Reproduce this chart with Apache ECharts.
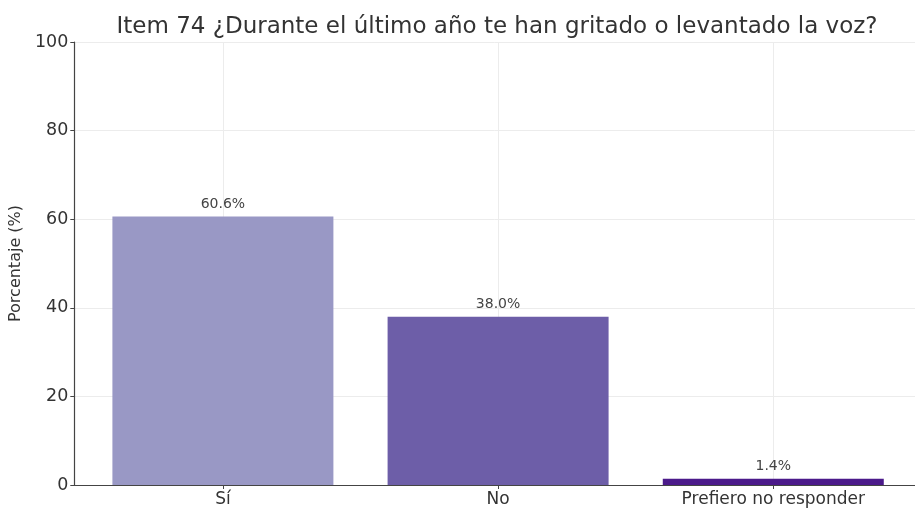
<!DOCTYPE html>
<html><head><meta charset="utf-8">
<script src="https://cdn.jsdelivr.net/npm/echarts@6/dist/echarts.min.js"></script>
<style>html,body{margin:0;padding:0;background:#fff}#c{width:915px;height:508px}</style>
</head><body><div id="c"></div>
<script>
const categories = ['Sí', 'No', 'Prefiero no responder'];
const values = [60.6, 38.0, 1.4];
const barColors = ['#9998c5', '#6d5ea8', '#4b1a8a'];
const yTicks = [0, 20, 40, 60, 80, 100];
const titleText = 'Item 74 ¿Durante el último año te han gritado o levantado la voz?';
const yName = 'Porcentaje (%)';

const font = 'DejaVu Sans';
const chart = echarts.init(document.getElementById('c'), null, {renderer: 'canvas'});
const idx = categories.map((_, i) => i);
chart.setOption({
  animation: false,
  title: {text: titleText, left: 492, top: 11, textAlign: 'center',
    textStyle: {fontFamily: font, fontSize: 23, fontWeight: 'normal', color: '#333'}},
  grid: {left: 72, right: 0, top: 42, bottom: 23, containLabel: false},
  xAxis: {type: 'value', min: -0.54, max: 2.515,
    axisLine: {show: true, onZero: false, lineStyle: {color: '#444', width: 1.2}},
    axisTick: {show: true, customValues: idx, length: 4, lineStyle: {color: '#444'}},
    axisLabel: {customValues: idx, formatter: v => categories[Math.round(v)] || '',
      fontFamily: font, fontSize: 17, color: '#333', margin: 6},
    splitLine: {show: false}},
  yAxis: {type: 'value', min: 0, max: 100, interval: 20,
    name: yName, nameLocation: 'middle', nameGap: 46,
    nameTextStyle: {fontFamily: font, fontSize: 16, color: '#333'},
    axisLine: {show: true, onZero: false, lineStyle: {color: '#444', width: 1.2}},
    axisTick: {show: true, length: 4, lineStyle: {color: '#444'}},
    axisLabel: {fontFamily: font, fontSize: 17.5, color: '#333', margin: 6,
      formatter: v => yTicks.includes(v) ? String(v) : ''},
    splitLine: {show: true, lineStyle: {color: '#ececec', width: 1}}},
  series: [{
    type: 'bar', barWidth: 221,
    data: values.map((v, i) => ({value: [i, v], itemStyle: {color: barColors[i]}})),
    label: {show: true, position: 'top', distance: 5, formatter: p => p.value[1].toFixed(1) + '%',
      fontFamily: font, fontSize: 14, color: '#444'},
    markLine: {silent: true, symbol: 'none', label: {show: false}, z: 0,
      lineStyle: {color: '#ececec', type: 'solid', width: 1},
      data: idx.map(i => ({xAxis: i}))},
    z: 2
  }]
});
</script></body></html>
